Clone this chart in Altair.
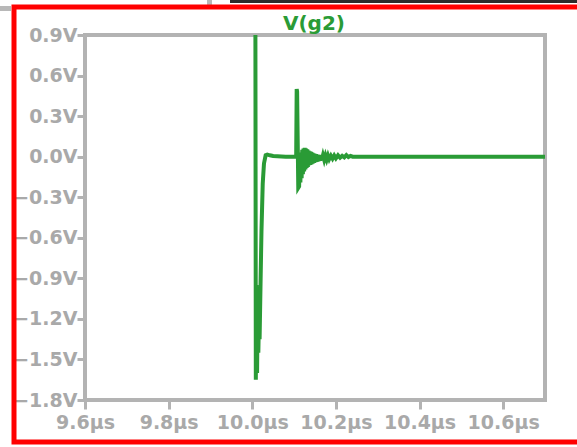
import altair as alt
import pandas as pd

# ---- data ----
time_us = [
    10.0075, 10.0085, 10.0100, 10.0115, 10.0130, 10.0145, 10.0160, 10.0175,
    10.0200, 10.0220, 10.0250, 10.0280, 10.0320, 10.0360, 10.0420, 10.0500,
    10.0800, 10.1050, 10.1062, 10.1072, 10.1100,
    10.1120, 10.1135, 10.1150, 10.1165, 10.1180, 10.1195, 10.1210, 10.1225,
    10.1240, 10.1255, 10.1270, 10.1285, 10.1300, 10.1315, 10.1330, 10.1345,
    10.1360, 10.1375, 10.1390, 10.1405, 10.1420, 10.1435, 10.1450, 10.1465,
    10.1480, 10.1495, 10.1510, 10.1525, 10.1540, 10.1560, 10.1580, 10.1600,
    10.1620, 10.1640, 10.1660, 10.1690, 10.1720, 10.1750, 10.1780, 10.1810,
    10.1840, 10.1880, 10.1920, 10.1960, 10.2000, 10.2050, 10.2100, 10.2150,
    10.2200, 10.2250, 10.2300, 10.2350, 10.2400, 10.7000,
]
volts = [
    0.90, -1.65, -0.95, -1.60, -1.05, -1.45, -1.20, -1.35,
    -0.90, -0.55, -0.20, -0.05, 0.01, 0.015, 0.01, 0.005,
    0.0, 0.0, 0.50, 0.48, -0.23,
    -0.22, 0.00, -0.19, 0.03, -0.16, 0.05, -0.13, 0.06,
    -0.11, 0.065, -0.095, 0.06, -0.085, 0.055, -0.075, 0.045,
    -0.065, 0.04, -0.06, 0.035, -0.055, 0.03, -0.05, 0.025,
    -0.045, 0.02, -0.04, 0.018, -0.037, 0.015, -0.033, 0.013,
    -0.03, 0.012, -0.027, 0.01, -0.024, 0.009, -0.021, 0.008,
    -0.018, 0.007, -0.015, 0.008, -0.012, 0.01, -0.008, 0.006,
    -0.005, 0.012, -0.003, 0.006, 0.0, 0.0,
]
x_ticks = [9.6, 9.8, 10.0, 10.2, 10.4, 10.6]
y_ticks = [-1.8, -1.5, -1.2, -0.9, -0.6, -0.3, 0.0, 0.3, 0.6, 0.9]
trace_name = ["V(g2)"]

df = pd.DataFrame({"t": time_us, "v": volts, "i": list(range(len(time_us)))})

GRAY = "#b3b3b3"
LABEL = "#a9a9a9"
GREEN = "#2a9b36"
FONT = "DejaVu Sans"

line = alt.Chart(df).mark_line(color=GREEN, strokeWidth=4, clip=True).encode(
    x=alt.X("t:Q", scale=alt.Scale(domain=[9.6, 10.7], nice=False, zero=False),
            axis=alt.Axis(values=x_ticks, labelExpr="format(datum.value, '.1f') + 'µs'",
                          tickSize=9, tickWidth=3, tickColor=GRAY, domain=False,
                          labelPadding=4, labelFontSize=19, labelFontWeight="bold",
                          labelFlush=False, labelOverlap=False,
                          labelColor=LABEL, labelFont=FONT, grid=False, title=None)),
    y=alt.Y("v:Q", scale=alt.Scale(domain=[-1.8, 0.9], nice=False, zero=False),
            axis=alt.Axis(values=y_ticks, labelExpr="format(datum.value, '.1f') + 'V'",
                          tickSize=8, tickWidth=3, tickColor=GRAY, domain=False,
                          labelPadding=0, labelFontSize=19, labelFontWeight="bold",
                          labelFlush=False, labelOverlap=False,
                          labelColor=LABEL, labelFont=FONT, grid=False, title=None)),
    order="i:Q",
)

title_df = pd.DataFrame({"name": trace_name})
title = alt.Chart(title_df).mark_text(
    color=GREEN, fontSize=20, fontWeight="bold", font=FONT, align="center",
    baseline="alphabetic", clip=False
).encode(text="name:N", x=alt.value(229), y=alt.value(-5))

one = pd.DataFrame({"a": [0]})
red_frame = alt.Chart(one).mark_rect(filled=False, stroke="#ff0000", strokeWidth=5, clip=False).encode(
    x=alt.value(-71), x2=alt.value(510), y=alt.value(-28), y2=alt.value(407)
)
black_bar = alt.Chart(one).mark_rect(color="#2b2b2b", clip=False).encode(
    x=alt.value(145), x2=alt.value(500), y=alt.value(-35), y2=alt.value(-32)
)
gray_bits = alt.Chart(one).mark_rect(color="#b8b8b8", clip=False).encode(
    x=alt.value(-85), x2=alt.value(-74), y=alt.value(-29), y2=alt.value(-24)
)
gray_bits2 = alt.Chart(one).mark_rect(color="#b8b8b8", clip=False).encode(
    x=alt.value(122), x2=alt.value(127), y=alt.value(-35), y2=alt.value(-30)
)

chart = alt.layer(line, title, gray_bits, gray_bits2, black_bar, red_frame).properties(
    width=460, height=365,
    padding={"left": 85, "top": 35, "right": 32, "bottom": 47},
    autosize=alt.AutoSizeParams(type="none"),
    background="white",
).configure_view(stroke=GRAY, strokeWidth=4)

chart.save("out.html", embed_options={"renderer": "svg", "actions": False})
